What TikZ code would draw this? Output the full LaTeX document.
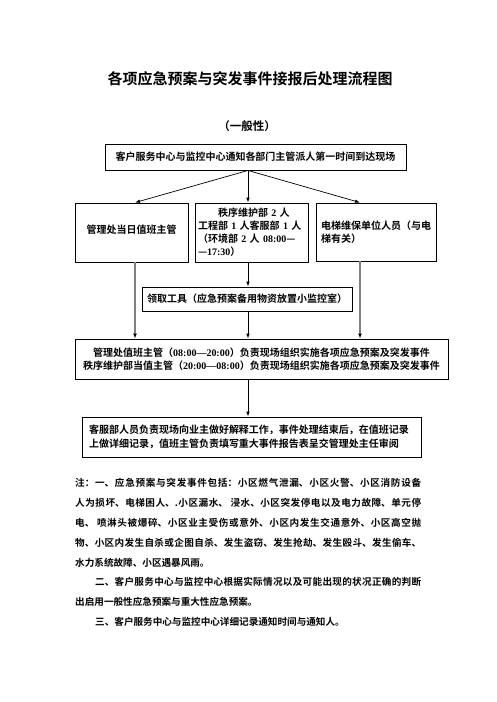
\documentclass[tikz,border=0pt]{standalone}
\usepackage{fontspec}
\setmainfont{Noto Sans CJK SC}[BoldFont={Noto Sans CJK SC Bold}]
\newfontfamily\latinfont{Liberation Serif}
\newcommand{\tm}[1]{{\latinfont\bfseries #1}}
\XeTeXlinebreaklocale "zh"
\XeTeXlinebreakskip=0pt plus 1.5pt
\usetikzlibrary{arrows.meta}

\tikzset{
  flowbox/.style={draw, line width=0.9pt, inner sep=0pt, font=\bfseries\fontsize{10}{13}\selectfont},
  arr/.style={-{Latex[length=5pt,width=3.6pt]}, line width=0.7pt},
  grayline/.style={draw=gray, line width=1.8pt, -{Latex[length=5pt,width=4pt,color=black]}}
}

\begin{document}
\begin{tikzpicture}[x=1pt,y=-1pt]
            \useasboundingbox (0,0) rectangle (496,702);
            \node[font=\bfseries\fontsize{15}{18}\selectfont] (title) at (250,79) {各项应急预案与突发事件接报后处理流程图};
            \node[font=\bfseries\fontsize{11.5}{14}\selectfont] (kind) at (247,126) {（一般性）};
            \coordinate (spine) at (248,0);
            \node[flowbox, minimum width=301pt, minimum height=26pt] (notify) at (255.5,157) {客户服务中心与监控中心通知各部门主管派人第一时间到达现场};
            \node[flowbox, minimum width=113pt, minimum height=59pt] (duty) at (131.5,232.5) {\raisebox{6pt}{管理处当日值班主管}};
            \node[flowbox, minimum width=113pt, minimum height=59pt, text width=107pt, align=left] (staff) at (251.5,232.5) {\hspace*{20pt}秩序维护部 \tm{2} 人\\工程部 \tm{1} 人客服部 \tm{1} 人\\（环境部 \tm{2} 人 \tm{08:00}—\\—\tm{17:30}）};
            \node[flowbox, minimum width=120pt, minimum height=58pt, text width=110pt, align=left] (elevator) at (376,232) {电梯维保单位人员（与电\\梯有关）};
            \node[flowbox, minimum width=210pt, minimum height=24pt] (tools) at (247,299) {领取工具（应急预案备用物资放置小监控室）};
            \node[flowbox, minimum width=373pt, minimum height=40pt, align=center, font=\bfseries\fontsize{10}{12.5}\selectfont] (lead) at (261.5,359) {管理处值班主管（\tm{08:00—20:00}）负责现场组织实施各项应急预案及突发事件\\秩序维护部当值主管（\tm{20:00—08:00}）负责现场组织实施各项应急预案及突发事件};
            \node[flowbox, minimum width=339pt, minimum height=40pt, text width=325pt, align=left, font=\bfseries\fontsize{10}{14}\selectfont] (report) at (251.5,437) {客服部人员负责现场向业主做好解释工作，事件处理结束后，在值班记录\\上做详细记录，值班主管负责填写重大事件报告表呈交管理处主任审阅};
            \draw[arr] (notify.south -| spine) -- ([xshift=3.5pt]duty.north);
            \draw[arr] (notify.south -| spine) -- (staff.north -| spine);
            \draw[arr] (notify.south -| spine) -- ([xshift=-16pt]elevator.north);
            \draw[arr] (staff.south -| spine) -- (tools.north -| spine);
            \draw[arr] (tools.south -| spine) -- (lead.north -| spine);
            \draw[grayline] ([xshift=3.5pt]duty.south) -- ([xshift=3.5pt]duty.south |- lead.north);
            \draw[grayline] ([xshift=-16pt]elevator.south) -- ([xshift=-16pt]elevator.south |- lead.north);
            \draw[arr] (lead.south -| spine) -- (report.north -| spine);
            \node[anchor=north west, inner sep=0pt, text width=346pt, align=justify, font=\bfseries\fontsize{9.6}{19.9}\selectfont] (notes) at (75,478) {注：一、应急预案与突发事件包括：小区燃气泄漏、小区火警、小区消防设备\linebreak 人为损坏、电梯困人、.小区漏水、 浸水、小区突发停电以及电力故障、单元停\linebreak 电、 喷淋头被爆碎、小区业主受伤或意外、小区内发生交通意外、小区高空抛\linebreak 物、小区内发生自杀或企图自杀、发生盗窃、发生抢劫、发生殴斗、发生偷车、\linebreak 水力系统故障、小区遇暴风雨。\par\hspace*{20pt}二、客户服务中心与监控中心根据实际情况以及可能出现的状况正确的判断\linebreak 出启用一般性应急预案与重大性应急预案。\par\hspace*{20pt}三、客户服务中心与监控中心详细记录通知时间与通知人。};
        \end{tikzpicture}
\end{document}
